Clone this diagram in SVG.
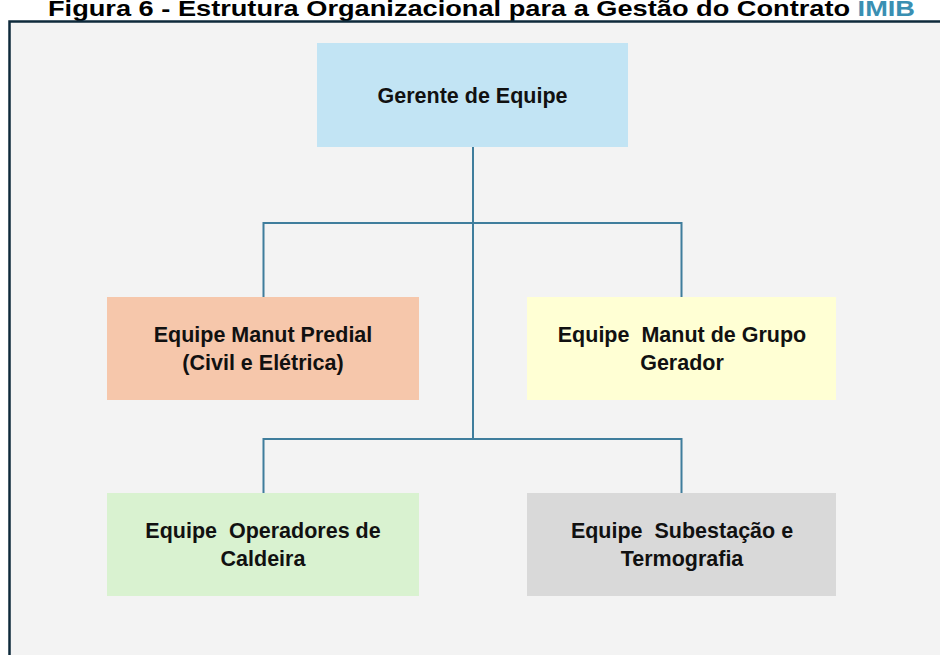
<svg xmlns="http://www.w3.org/2000/svg" width="940" height="655" viewBox="0 0 940 655">
  <style>
    .title { font-family: "Liberation Sans", Arial, sans-serif; font-weight: bold; font-size: 22px; fill: #000000; }
    .accent { fill: #3a8fb2; }
    .lbl { font-family: "Liberation Sans", Arial, sans-serif; font-weight: bold; font-size: 21.5px; fill: #111111; text-anchor: middle; }
    .conn { fill: none; stroke: #3f7d9c; stroke-width: 2; }
  </style>
  <rect x="0" y="0" width="940" height="655" fill="#ffffff"/>
  <text class="title" x="48" y="16" textLength="867" lengthAdjust="spacingAndGlyphs">Figura 6 - Estrutura Organizacional para a Gestão do Contrato <tspan class="accent">IMIB</tspan></text>
  <rect id="frame" x="9.5" y="21.5" width="940" height="640" fill="#f3f3f3" stroke="#0e2a3b" stroke-width="2.5"/>
  <g id="connectors">
    <path class="conn" d="M473 147 V439"/>
    <path class="conn" d="M263.5 297 V223 H681.5 V297"/>
    <path class="conn" d="M263.5 494 V439 H681.5 V494"/>
  </g>
  <g id="gerente">
    <rect x="317" y="43" width="311" height="104" fill="#c2e4f4"/>
    <text class="lbl" x="472.5" y="103">Gerente de Equipe</text>
  </g>
  <g id="predial">
    <rect x="107" y="297" width="312" height="103" fill="#f6c7ab"/>
    <text class="lbl" x="263" y="342">Equipe Manut Predial</text>
    <text class="lbl" x="263" y="370">(Civil e Elétrica)</text>
  </g>
  <g id="gerador">
    <rect x="527" y="297" width="309" height="103" fill="#ffffd4"/>
    <text class="lbl" x="682" y="342" xml:space="preserve">Equipe  Manut de Grupo</text>
    <text class="lbl" x="682" y="370">Gerador</text>
  </g>
  <g id="caldeira">
    <rect x="107" y="493" width="312" height="103" fill="#d9f2d0"/>
    <text class="lbl" x="263" y="538" xml:space="preserve">Equipe  Operadores de</text>
    <text class="lbl" x="263" y="566">Caldeira</text>
  </g>
  <g id="subestacao">
    <rect x="527" y="493" width="309" height="103" fill="#d9d9d9"/>
    <text class="lbl" x="682" y="538" xml:space="preserve">Equipe  Subestação e</text>
    <text class="lbl" x="682" y="566">Termografia</text>
  </g>
</svg>
